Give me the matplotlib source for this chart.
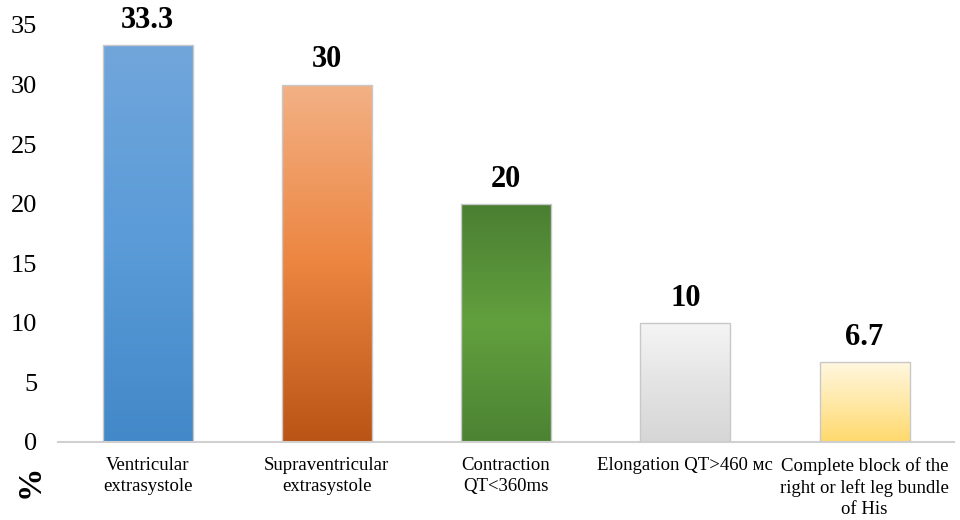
import numpy as np
import matplotlib.pyplot as plt
from matplotlib.colors import LinearSegmentedColormap

categories = [
    "Ventricular\nextrasystole",
    "Supraventricular\nextrasystole",
    "Contraction\nQT<360ms",
    "Elongation QT>460 мс",
    "Complete block of the\nright or left leg bundle\nof His",
]
values = [33.3, 30, 20, 10, 6.7]
value_labels = ["33.3", "30", "20", "10", "6.7"]
yticks = [0, 5, 10, 15, 20, 25, 30, 35]

# gradient colours, bottom -> middle -> top
gradients = [
    ["#4388C8", "#5A9BD8", "#71A6DB"],
    ["#BA5416", "#EC8540", "#F3B185"],
    ["#4C8333", "#62A03E", "#4A7E32"],
    ["#D6D6D6", "#E4E4E4", "#F5F5F5"],
    ["#FFD96C", "#FFE9A8", "#FFF7DF"],
]

plt.rcParams["font.family"] = ["Liberation Serif", "DejaVu Serif"]

fig = plt.figure(figsize=(9.6, 5.2), dpi=100)
ax = fig.add_axes([0.0604, 0.15, 0.9336, 0.802])

x = np.arange(len(values))
bars = ax.bar(x, values, width=0.503, color="none", edgecolor="#C8C8C8",
              linewidth=1.0, zorder=3)

grad = np.linspace(0, 1, 256).reshape(-1, 1)
for bar, cols in zip(bars, gradients):
    cmap = LinearSegmentedColormap.from_list("g", cols)
    x0, w, h = bar.get_x(), bar.get_width(), bar.get_height()
    im = ax.imshow(grad, cmap=cmap, aspect="auto", origin="lower",
                   extent=[x0, x0 + w, 0, h], zorder=2)
    im.set_clip_path(bar)

for xi, v, lab in zip(x, values, value_labels):
    ax.text(xi, v + 0.85, lab, ha="center", va="bottom", fontsize=22,
            fontweight="bold", clip_on=False)

ax.set_xlim(-0.5, len(values) - 0.5)
ax.set_ylim(0, 35)
ax.set_yticks(yticks)
ax.set_xticks(x)
ax.set_xticklabels(categories, fontsize=13.5, linespacing=1.3)
ax.tick_params(axis="y", length=0, labelsize=19, pad=15)
ax.tick_params(axis="x", length=0, pad=11)

for side in ["left", "right", "top"]:
    ax.spines[side].set_visible(False)
ax.spines["bottom"].set_color("#D0D0D0")
ax.spines["bottom"].set_linewidth(1.5)

fig.text(0.031, 0.075, "%", rotation=90, fontsize=24, fontweight="bold",
         ha="center", va="center")

fig.savefig("out.png", dpi=100)
